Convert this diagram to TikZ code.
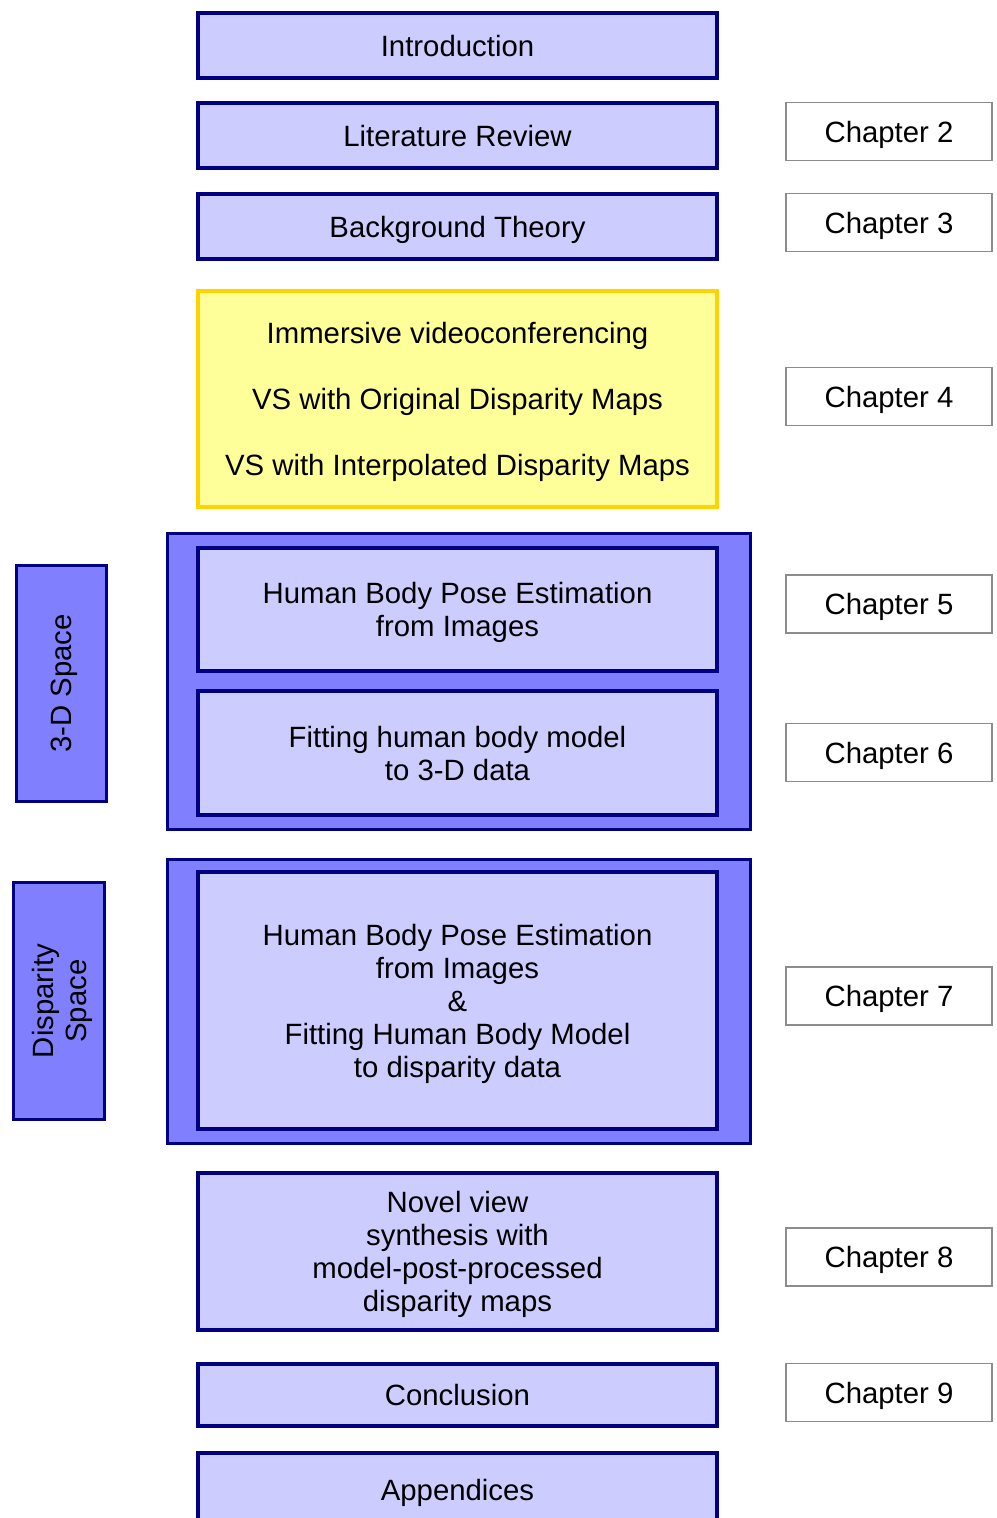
\documentclass[tikz,border=0pt]{standalone}
\usepackage{fontspec}
\setmainfont{Liberation Sans}
\usepackage{xcolor}
\definecolor{outlinenavy}{HTML}{000080}
\definecolor{chapterlilac}{HTML}{CCCCFF}
\definecolor{groupblue}{HTML}{8080FF}
\definecolor{highlightfill}{HTML}{FFFF99}
\definecolor{highlightedge}{HTML}{FFD200}
\definecolor{tagedge}{HTML}{8C8C8C}

\begin{document}
\begin{tikzpicture}[x=0.02cm, y=-0.02cm,
  every node/.style={font=\fontsize{16.7}{18.8}\selectfont, align=center, inner sep=0pt, text depth=0pt},
  boxsize/.style 2 args={minimum width=#1*0.02cm, minimum height=#2*0.02cm},
  partbox/.style={draw=outlinenavy, fill=chapterlilac, line width=2.4pt, boxsize={519}{#1}},
  groupbox/.style={draw=outlinenavy, fill=groupblue, line width=2.2pt},
  spacebox/.style={groupbox, rotate=90},
  tagbox/.style={draw=tagedge, fill=white, line width=0.9pt, boxsize={206}{58}}]

  \useasboundingbox (0,0) rectangle (997,1518);

  % chapters in the main column
  \node[partbox=65] (intro) at (457.5,45.5) {Introduction};
  \node[partbox=65] (litrev) at (457.5,135.5) {Literature Review};
  \node[partbox=65] (backgr) at (457.5,226.5) {Background Theory};
  \node[draw=highlightedge, fill=highlightfill, line width=2.4pt, boxsize={519}{216}] (immersive) at (457.5,399)
    {Immersive videoconferencing\\[18.8pt] VS with Original Disparity Maps\\[18.8pt] VS with Interpolated Disparity Maps};

  % 3-D space group
  \node[groupbox, boxsize={583}{296}] (group3d) at (459,681.5) {};
  \node[partbox=123] (poseimg) at (457.5,609.5) {Human Body Pose Estimation\\from Images};
  \node[partbox=124] (fit3d) at (457.5,753) {Fitting human body model\\to 3-D data};
  \node[spacebox, boxsize={236}{90}] (space3d) at (61.5,683.5) {3-D Space};

  % disparity space group
  \node[groupbox, boxsize={583}{284}] (groupdisp) at (459,1001.5) {};
  \node[partbox=257] (posedisp) at (457.5,1000.5)
    {Human Body Pose Estimation\\from Images\\\&\\Fitting Human Body Model\\to disparity data};
  \node[spacebox, boxsize={237}{91}] (spacedisp) at (59,1001) {Disparity\\Space};

  \node[partbox=157] (novel) at (457.5,1251.5)
    {Novel view\\synthesis with\\model-post-processed\\disparity maps};
  \node[partbox=62] (concl) at (457.5,1395) {Conclusion};
  \node[partbox=74] (append) at (457.5,1490) {Appendices};

  % chapter tags
  \node[tagbox] (ch2) at (889,131.5) {Chapter 2};
  \node[tagbox] (ch3) at (889,222.5) {Chapter 3};
  \node[tagbox] (ch4) at (889,396.5) {Chapter 4};
  \node[tagbox] (ch5) at (889,604) {Chapter 5};
  \node[tagbox] (ch6) at (889,752.5) {Chapter 6};
  \node[tagbox] (ch7) at (889,996) {Chapter 7};
  \node[tagbox] (ch8) at (889,1257) {Chapter 8};
  \node[tagbox] (ch9) at (889,1392.5) {Chapter 9};

\end{tikzpicture}
\end{document}
